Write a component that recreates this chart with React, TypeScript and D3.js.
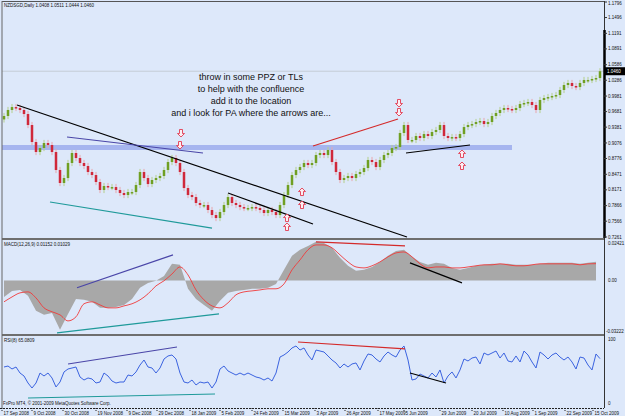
import React from 'react';
import * as d3 from 'd3';

const W = 625;
const H = 416;

// NZDSGD daily closes
const closes = [
  0.9596, 0.9712, 0.9769, 0.9750, 0.9712, 0.9634, 0.9422, 0.9094, 0.8901, 0.8978,
  0.9075, 0.9036, 0.8901, 0.8554, 0.8303, 0.8399, 0.8689, 0.8882, 0.8785, 0.8689,
  0.8631, 0.8515, 0.8457, 0.8322, 0.8168, 0.8245, 0.8225, 0.8225, 0.8168, 0.8110,
  0.8071, 0.8129, 0.8129, 0.8264, 0.8515, 0.8399, 0.8283, 0.8361, 0.8399, 0.8438,
  0.8554, 0.8708, 0.8785, 0.8689, 0.8515, 0.8206, 0.8071, 0.8032, 0.7917, 0.7878,
  0.7878, 0.7782, 0.7685, 0.7627, 0.7743, 0.7878, 0.8032, 0.7917, 0.7878, 0.7839,
  0.7820, 0.7820, 0.7839, 0.7820, 0.7782, 0.7724, 0.7782, 0.7743, 0.7685, 0.7878,
  0.8071, 0.8264, 0.8457, 0.8554, 0.8611, 0.8689, 0.8650, 0.8689, 0.8843, 0.8882,
  0.8843, 0.8940, 0.8708, 0.8515, 0.8361, 0.8399, 0.8438, 0.8399, 0.8476, 0.8515,
  0.8592, 0.8747, 0.8708, 0.8611, 0.8747, 0.8843, 0.8882, 0.8978, 0.8997, 0.9268,
  0.9422, 0.9133, 0.9133, 0.9210, 0.9171, 0.9248, 0.9210, 0.9287, 0.9326, 0.9422,
  0.9210, 0.9171, 0.9190, 0.9171, 0.9248, 0.9383, 0.9422, 0.9441, 0.9480, 0.9499,
  0.9441, 0.9480, 0.9596, 0.9654, 0.9712, 0.9750, 0.9731, 0.9712, 0.9750, 0.9827,
  0.9847, 0.9866, 0.9808, 0.9712, 0.9905, 0.9943, 0.9962, 0.9982, 1.0001, 1.0098,
  1.0194, 1.0233, 1.0175, 1.0155, 1.0233, 1.0291, 1.0291, 1.0310, 1.0329, 1.0460,
];
const firstOpen = 0.9530;
const lastPrice = 1.0460;

// MACD(12,26,9), every fourth bar
const macdMain = [
  -0.0101, -0.0064, -0.0058, -0.0094, -0.0186, -0.0211, -0.0199, -0.0303, -0.0205, -0.0113,
  -0.0119, -0.0131, -0.0168, -0.0168, -0.0162, -0.0150, -0.0113, -0.0045, -0.0015, -0.0002,
  0.0028, 0.0102, 0.0096, -0.0051, -0.0113, -0.0150, -0.0186, -0.0125, -0.0076, -0.0064,
  -0.0058, -0.0051, -0.0051, -0.0045, -0.0021, 0.0065, 0.0151, 0.0188, 0.0212, 0.0237,
  0.0230, 0.0200, 0.0139, 0.0090, 0.0059, 0.0065, 0.0083, 0.0114, 0.0151, 0.0181,
  0.0188, 0.0145, 0.0114, 0.0096, 0.0108, 0.0102, 0.0077, 0.0065, 0.0077, 0.0090,
  0.0096, 0.0102, 0.0102, 0.0102, 0.0096, 0.0096, 0.0096, 0.0102, 0.0108, 0.0108,
  0.0108, 0.0108, 0.0102, 0.0108, 0.0115,
];
const macdSignal = [
  -0.0131, -0.0101, -0.0076, -0.0070, -0.0107, -0.0168, -0.0192, -0.0211, -0.0248, -0.0223,
  -0.0143, -0.0131, -0.0150, -0.0168, -0.0168, -0.0156, -0.0143, -0.0119, -0.0082, -0.0033,
  -0.0002, 0.0040, 0.0083, 0.0034, -0.0058, -0.0119, -0.0156, -0.0168, -0.0137, -0.0088,
  -0.0070, -0.0064, -0.0058, -0.0051, -0.0051, -0.0021, 0.0065, 0.0126, 0.0188, 0.0218,
  0.0218, 0.0200, 0.0157, 0.0114, 0.0083, 0.0077, 0.0090, 0.0114, 0.0145, 0.0169,
  0.0175, 0.0145, 0.0102, 0.0077, 0.0083, 0.0083, 0.0077, 0.0077, 0.0083, 0.0090,
  0.0096, 0.0096, 0.0102, 0.0096, 0.0090, 0.0090, 0.0096, 0.0102, 0.0102, 0.0102,
  0.0102, 0.0102, 0.0096, 0.0102, 0.0103,
];

// RSI(8), same bars as closes
const rsi = [
  51.6, 53.2, 48.4, 51.6, 41.9, 37.1, 25.8, 17.7, 25.8, 41.9,
  37.1, 41.9, 33.9, 19.4, 27.4, 43.6, 48.4, 50.0, 51.6, 35.5,
  30.6, 33.9, 32.3, 25.8, 27.4, 41.9, 37.1, 29.0, 25.8, 27.4,
  27.4, 38.7, 37.1, 43.6, 54.8, 62.9, 51.6, 50.0, 41.9, 50.0,
  64.5, 69.4, 71.0, 64.5, 41.9, 27.4, 25.8, 30.6, 22.6, 27.4,
  25.8, 27.4, 17.7, 27.4, 48.4, 53.2, 45.2, 41.9, 38.7, 41.9,
  38.7, 41.9, 38.7, 35.5, 33.9, 30.6, 33.9, 29.0, 41.9, 67.7,
  71.0, 75.8, 82.3, 85.5, 79.0, 82.3, 71.0, 62.9, 79.0, 77.4,
  75.8, 69.4, 62.9, 58.1, 50.0, 56.5, 51.6, 56.5, 58.1, 46.8,
  61.3, 72.6, 71.0, 64.5, 59.7, 69.4, 75.8, 71.0, 67.7, 79.0,
  85.5, 62.9, 30.6, 32.3, 40.3, 37.1, 33.9, 41.9, 35.5, 46.8,
  25.8, 37.1, 43.6, 33.9, 46.8, 64.5, 61.3, 66.1, 67.7, 56.5,
  74.2, 71.0, 74.2, 77.4, 66.1, 74.2, 61.3, 59.7, 69.4, 59.7,
  77.4, 71.0, 59.7, 50.0, 75.8, 71.0, 64.5, 71.0, 74.2, 67.7,
  62.9, 67.7, 59.7, 48.4, 67.7, 66.1, 54.8, 46.8, 72.6, 65.08,
];

const priceTicks = [1.1796, 1.1496, 1.1191, 1.0891, 1.0586, 1.0286, 0.9981, 0.9681, 0.9381, 0.9076, 0.8776, 0.8471, 0.8171, 0.7866, 0.7566, 0.7261];

const dateLabels = ['17 Sep 2008', '9 Oct 2008', '30 Oct 2008', '19 Nov 2008', '9 Dec 2008', '29 Dec 2008', '18 Jan 2009', '5 Feb 2009', '24 Feb 2009', '15 Mar 2009', '3 Apr 2009', '26 Apr 2009', '17 May 2009', '5 Jun 2009', '29 Jun 2009', '20 Jul 2009', '10 Aug 2009', '1 Sep 2009', '22 Sep 2009', '15 Oct 2009'];
const dateBars = [-0.5, 7, 14.75, 23, 30.75, 38.25, 46.5, 54, 62, 69.75, 77.75, 85.25, 93.5, 100, 109, 117, 124.75, 132.25, 140.25, 147.25];

// hand drawn lines: [bar1, value1, bar2, value2, kind]
const priceLines = [
  [3.25, 0.9808, 100.75, 0.7261, 'black'],
  [15.75, 0.9191, 49.75, 0.8882, 'purple'],
  [11.5, 0.7936, 52, 0.7434, 'teal'],
  [56, 0.8110, 77.25, 0.7511, 'black'],
  [77.25, 0.9017, 98.5, 0.9538, 'red'],
  [100.5, 0.8882, 116.5, 0.9036, 'black'],
];
const ppzLevel = 0.8988;
const ppzBars = [-0.5, 127];
const macdLines = [
  [18.25, -0.0045, 42.25, 0.0157, 'purple'],
  [13.25, -0.0321, 53.75, -0.0205, 'teal'],
  [78, 0.0237, 100.25, 0.0212, 'red'],
  [101.5, 0.0108, 114.5, -0.0015, 'black'],
];
const rsiLines = [
  [16, 56.5, 43.25, 83.9, 'purple'],
  [6, 1.6, 52.75, 8.1, 'teal'],
  [73.5, 91.9, 100.25, 80.7, 'red'],
  [101.5, 41.9, 110.5, 25.8, 'black'],
];
// arrows: [bar, price, dir]
const arrows = [
  [44.25, 0.9268, 'down'], [44, 0.9036, 'down'],
  [98.75, 0.9847, 'down'], [98.75, 0.9673, 'down'],
  [74.5, 0.8129, 'up'], [74.5, 0.7878, 'up'],
  [70.75, 0.7627, 'up'], [70.75, 0.7454, 'up'],
  [114.5, 0.8863, 'up'], [114.5, 0.8631, 'up'],
];
const note = ['throw in some PPZ or TLs', 'to help with the confluence', 'add it to the location', 'and i look for PA where the arrows are...'];

const lineColor: Record<string, string> = {
  black: '#000000', purple: '#4a46a8', teal: '#1f9a9a', red: '#d42a2a',
};

const font = 'Liberation Sans, Arial, sans-serif';
const bg = '#dde8fa';
const small = 4.5;

function arrowPath(x: number, y: number, dir: string) {
  const s = dir === 'up' ? 1 : -1;
  return `M${x},${y - 4 * s} L${x + 3.5},${y - 0.5 * s} L${x + 1.5},${y - 0.5 * s} L${x + 1.5},${y + 3.5 * s} L${x - 1.5},${y + 3.5 * s} L${x - 1.5},${y - 0.5 * s} L${x - 3.5},${y - 0.5 * s} Z`;
}

export default function App() {
  const left = 2;
  const right = 604;
  const xBar = d3.scaleLinear().domain([0, closes.length - 1]).range([4, 600]);
  const yP = d3.scaleLinear().domain([0.7261, 1.1796]).range([237, 2]);
  const yM = d3.scaleLinear().domain([-0.03222, 0.02421]).range([333, 241]);
  const yR = d3.scaleLinear().domain([0, 100]).range([399, 337]);

  // histogram drawn as a filled area from the zero line
  const hist = d3.area<number>()
    .x((_, j) => xBar(2 * j))
    .y0(yM(0))
    .y1((d) => yM(d));
  const signal = d3.line<number>().x((_, j) => xBar(2 * j)).y((d) => yM(d)).curve(d3.curveMonotoneX);
  const rsiLine = d3.line<number>().x((_, i) => xBar(i)).y((d) => yR(d));

  const candles = closes.map((c, i) => {
    const o = i === 0 ? firstOpen : closes[i - 1];
    return { i, o, c, hi: Math.max(o, c) + 0.006, lo: Math.min(o, c) - 0.006, up: c >= o };
  });

  const drawLines = (lines: any[], y: d3.ScaleLinear<number, number>) =>
    lines.map((l, k) => (
      <line key={k} x1={xBar(l[0])} y1={y(l[1])} x2={xBar(l[2])} y2={y(l[3])}
        stroke={lineColor[l[4]]} strokeWidth={1.2} />
    ));

  return (
    <div style={{ position: 'fixed', left: 0, top: 0 }}>
      <svg width={W} height={H} style={{ display: 'block', background: bg }}>
        <rect x={0} y={0} width={W} height={H} fill={bg} />

        {/* main pane */}
        <line x1={left} x2={right} y1={yP(lastPrice)} y2={yP(lastPrice)} stroke="#c4ccd6" strokeWidth={1} />
        <line x1={xBar(ppzBars[0])} x2={xBar(ppzBars[1])} y1={yP(ppzLevel)} y2={yP(ppzLevel)} stroke="#a6b5ef" strokeWidth={5} />
        {candles.map((d) => (
          <g key={d.i}>
            <line x1={xBar(d.i)} x2={xBar(d.i)} y1={yP(d.hi)} y2={yP(d.lo)}
              stroke={d.up ? '#b4cf8c' : '#e8a6ad'} strokeWidth={1} />
            <rect x={xBar(d.i) - 1.25} width={2.5} y={yP(Math.max(d.o, d.c))}
              height={Math.max(1.5, Math.abs(yP(d.o) - yP(d.c)))} fill={d.up ? '#6f9f22' : '#d0283a'} />
          </g>
        ))}
        {drawLines(priceLines, yP)}
        {arrows.map((a: any, k) => (
          <path key={k} d={arrowPath(xBar(a[0]), yP(a[1]), a[2])} fill="#fbeef2" stroke="#e23a50" strokeWidth={0.9} />
        ))}
        {note.map((t, k) => (
          <text key={k} x={251} y={80 + k * 12} textAnchor="middle" fontFamily={font} fontSize={9} fill="#111">{t}</text>
        ))}
        <text x={4} y={7} fontFamily={font} fontSize={small} fill="#111">NZDSGD,Daily  1.0408 1.0511 1.0444 1.0460</text>

        {/* MACD pane */}
        <path d={hist(macdMain) || ''} fill="#a8a8a8" />
        <path d={signal(macdSignal) || ''} fill="none" stroke="#f03a3a" strokeWidth={0.9} />
        {drawLines(macdLines, yM)}
        <text x={4} y={246} fontFamily={font} fontSize={small} fill="#111">MACD(12,26,9) 0.01152 0.01029</text>

        {/* RSI pane */}
        <path d={rsiLine(rsi) || ''} fill="none" stroke="#3b63e0" strokeWidth={1} />
        {drawLines(rsiLines, yR)}
        <text x={4} y={342} fontFamily={font} fontSize={small} fill="#111">RSI(8) 65.0809</text>
        <text x={3} y={405} fontFamily={font} fontSize={small} fill="#111">FxPro MT4, © 2001-2009 MetaQuotes Software Corp.</text>

        {/* frames */}
        <line x1={left} x2={right} y1={1.5} y2={1.5} stroke="#555" strokeWidth={1} />
        <line x1={left} x2={right} y1={239} y2={239} stroke="#6e6e6e" strokeWidth={2} />
        <line x1={left} x2={right} y1={335} y2={335} stroke="#6e6e6e" strokeWidth={2} />
        <line x1={left} x2={left} y1={1} y2={408} stroke="#666" strokeWidth={1} />
        <line x1={right + 0.5} x2={right + 0.5} y1={1} y2={408} stroke="#333" strokeWidth={1} />
        <line x1={right + 0.5} x2={right + 0.5} y1={30} y2={238} stroke="#000" strokeWidth={2.5} />

        {/* right axis */}
        {priceTicks.map((v, k) => (
          <g key={k}>
            <line x1={right} x2={right + 3} y1={yP(v)} y2={yP(v)} stroke="#333" />
            <text x={right + 4} y={Math.min(238.5, Math.max(4.6, yP(v) + 1.6))} fontFamily={font} fontSize={small} fill="#111">{v.toFixed(4)}</text>
          </g>
        ))}
        <rect x={right + 1} y={yP(lastPrice) - 4} width={20} height={8} fill="#000" />
        <text x={right + 3} y={yP(lastPrice) + 1.6} fontFamily={font} fontSize={small} fill="#fff">{lastPrice.toFixed(4)}</text>
        <text x={right + 4} y={yM(0.02421) + 3.5} fontFamily={font} fontSize={small} fill="#111">0.02421</text>
        <text x={right + 4} y={yM(0) + 1.6} fontFamily={font} fontSize={small} fill="#111">0.00</text>
        <text x={right + 2} y={yM(-0.03222) - 0.5} fontFamily={font} fontSize={small} fill="#111">-0.03222</text>
        <text x={right + 4} y={yR(100) + 3.5} fontFamily={font} fontSize={small} fill="#111">100</text>
        <text x={right + 4} y={405} fontFamily={font} fontSize={small} fill="#111">0</text>

        {/* time axis */}
        <line x1={0} x2={right} y1={408.5} y2={408.5} stroke="#222" strokeWidth={1} strokeDasharray="2,1" />
        {dateLabels.map((t, k) => (
          <g key={k}>
            <line x1={xBar(dateBars[k])} x2={xBar(dateBars[k])} y1={408} y2={412} stroke="#222" strokeDasharray="1,1" />
            <text x={xBar(dateBars[k]) + 1.5} y={414.5} fontFamily={font} fontSize={small} fill="#111">{t}</text>
          </g>
        ))}
      </svg>
    </div>
  );
}
